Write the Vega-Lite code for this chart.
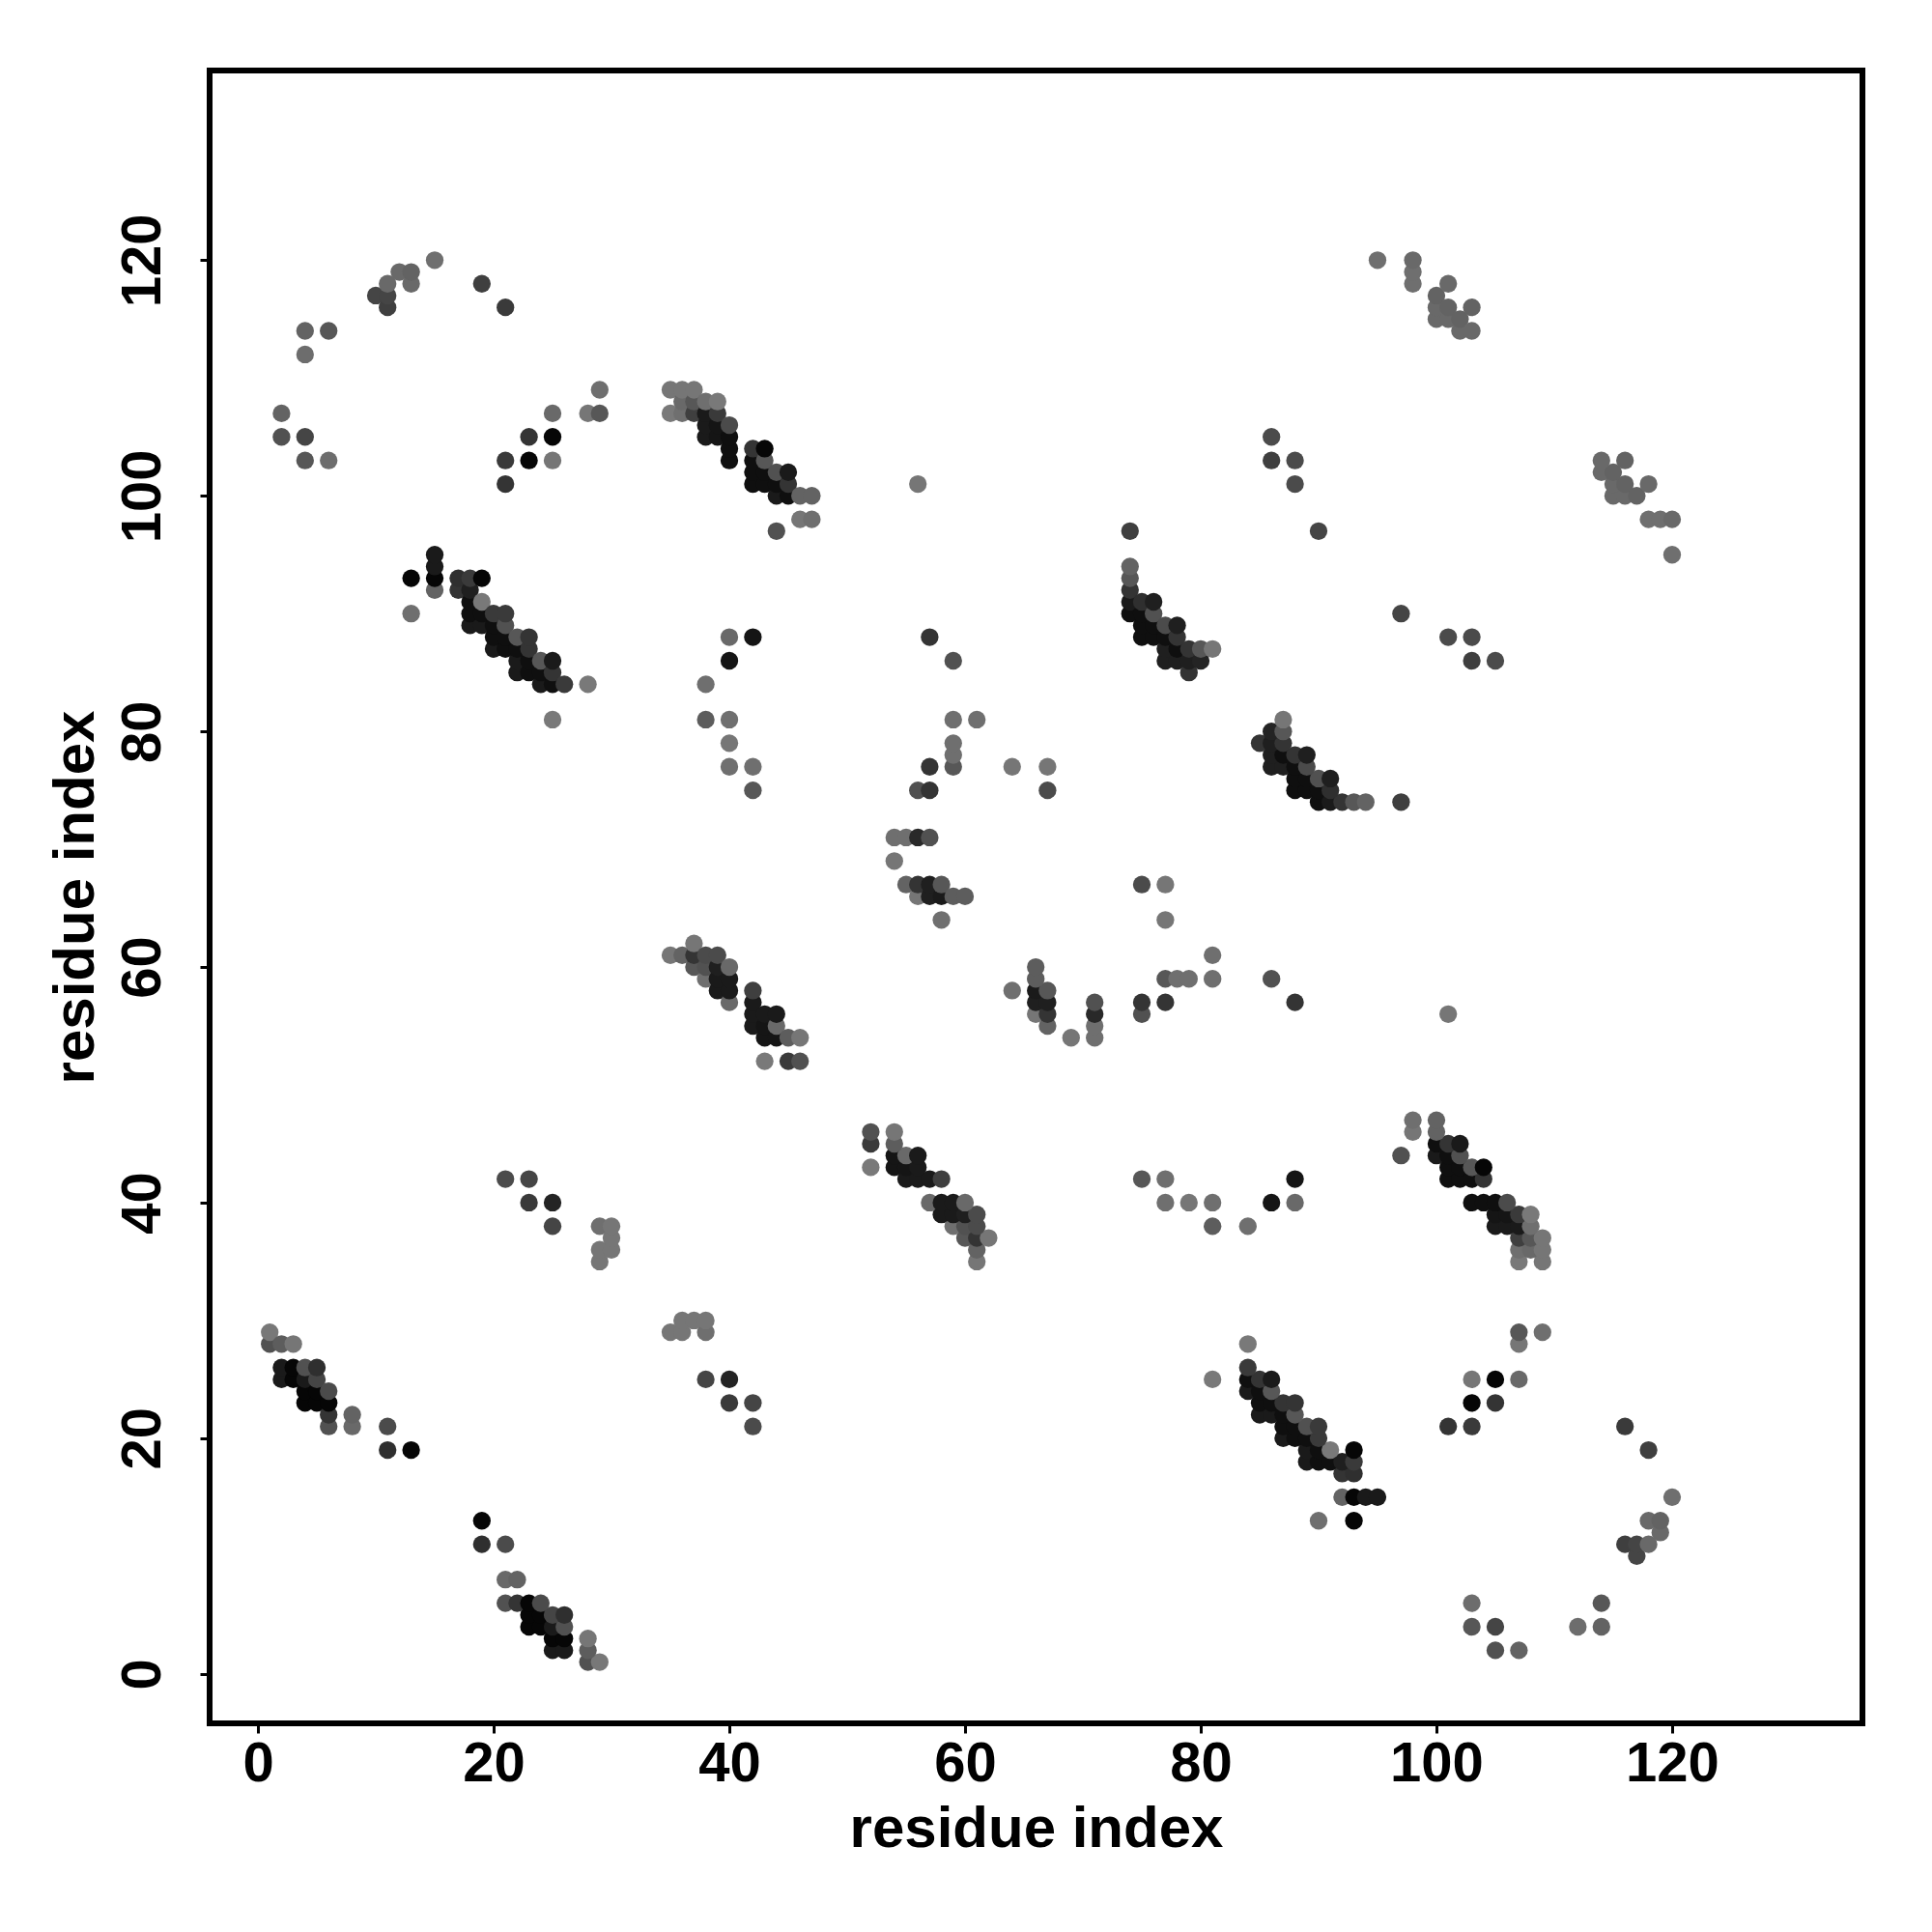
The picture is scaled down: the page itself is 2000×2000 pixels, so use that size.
{"$schema":"https://vega.github.io/schema/vega-lite/v6.json","width":1711,"height":1711,"autosize":"none","padding":{"left":217,"top":73,"right":72,"bottom":216},"background":"white","view":{"stroke":"black","strokeWidth":6,"fill":"white"},"config":{"font":"Liberation Sans"},
"data":{"values":[
{"x":1,"y":28,"g":0.35},{"x":1,"y":29,"g":0.03},{"x":2,"y":25,"g":0.85},{"x":2,"y":26,"g":0.85},{"x":2,"y":28,"g":0.25},{"x":3,"y":25,"g":1},{"x":3,"y":26,"g":1},{"x":3,"y":28,"g":0.05},{"x":4,"y":23,"g":1},{"x":4,"y":24,"g":1},{"x":4,"y":25,"g":0.85},{"x":4,"y":26,"g":0.35},{"x":5,"y":23,"g":1},{"x":5,"y":24,"g":1},{"x":5,"y":25,"g":0.45},{"x":5,"y":26,"g":0.65},{"x":6,"y":21,"g":0.35},{"x":6,"y":22,"g":0.6},{"x":6,"y":23,"g":1},{"x":6,"y":24,"g":0.4},{"x":8,"y":21,"g":0.15},{"x":8,"y":22,"g":0.2},{"x":11,"y":19,"g":0.65},{"x":11,"y":21,"g":0.4},{"x":13,"y":19,"g":1},
{"x":2,"y":105,"g":0.35},{"x":2,"y":107,"g":0.2},{"x":4,"y":103,"g":0.3},{"x":4,"y":105,"g":0.45},{"x":4,"y":112,"g":0.12},{"x":4,"y":114,"g":0.2},{"x":6,"y":103,"g":0.12},{"x":6,"y":114,"g":0.3},{"x":10,"y":117,"g":0.45},{"x":11,"y":116,"g":0.5},{"x":11,"y":117,"g":0.45},{"x":11,"y":118,"g":0.15},{"x":12,"y":119,"g":0.15},{"x":13,"y":118,"g":0.15},{"x":13,"y":119,"g":0.2},{"x":15,"y":120,"g":0.1},{"x":19,"y":118,"g":0.5},{"x":21,"y":116,"g":0.55},{"x":21,"y":101,"g":0.6},{"x":21,"y":103,"g":0.55},{"x":23,"y":103,"g":1},{"x":23,"y":105,"g":0.6},{"x":25,"y":103,"g":0.05},{"x":25,"y":105,"g":1},{"x":25,"y":107,"g":0.15},{"x":28,"y":107,"g":0.05},{"x":29,"y":107,"g":0.3},{"x":29,"y":109,"g":0.1},
{"x":13,"y":90,"g":0.1},{"x":13,"y":93,"g":1},{"x":15,"y":92,"g":0.2},{"x":15,"y":93,"g":1},{"x":15,"y":94,"g":0.85},{"x":15,"y":95,"g":0.85},{"x":17,"y":92,"g":0.6},{"x":17,"y":93,"g":0.65},{"x":18,"y":89,"g":0.85},{"x":18,"y":90,"g":0.95},{"x":18,"y":91,"g":0.95},{"x":18,"y":92,"g":0.8},{"x":18,"y":93,"g":0.55},{"x":19,"y":89,"g":0.85},{"x":19,"y":90,"g":0.95},{"x":19,"y":91,"g":0.02},{"x":19,"y":93,"g":1},{"x":20,"y":87,"g":0.85},{"x":20,"y":88,"g":0.95},{"x":20,"y":89,"g":0.95},{"x":20,"y":90,"g":0.55},{"x":21,"y":87,"g":0.95},{"x":21,"y":88,"g":0.95},{"x":21,"y":89,"g":0.35},{"x":21,"y":90,"g":0.55},{"x":22,"y":85,"g":0.85},{"x":22,"y":86,"g":0.85},{"x":22,"y":87,"g":0.95},{"x":22,"y":88,"g":0.3},{"x":23,"y":85,"g":0.95},{"x":23,"y":86,"g":0.95},{"x":23,"y":87,"g":0.6},{"x":23,"y":88,"g":0.6},{"x":24,"y":84,"g":0.85},{"x":24,"y":85,"g":0.95},{"x":24,"y":86,"g":0.3},{"x":25,"y":81,"g":0.02},{"x":25,"y":84,"g":0.95},{"x":25,"y":85,"g":0.6},{"x":25,"y":86,"g":0.85},{"x":26,"y":84,"g":0.55},{"x":28,"y":84,"g":0.02},
{"x":21,"y":42,"g":0.4},{"x":23,"y":40,"g":0.55},{"x":23,"y":42,"g":0.45},{"x":25,"y":38,"g":0.45},{"x":25,"y":40,"g":0.75},{"x":29,"y":35,"g":0.05},{"x":29,"y":36,"g":0.05},{"x":29,"y":38,"g":0.1},{"x":30,"y":36,"g":0.05},{"x":30,"y":37,"g":0.05},{"x":30,"y":38,"g":0.05},
{"x":35,"y":107,"g":0.02},{"x":35,"y":109,"g":0.05},{"x":36,"y":107,"g":0.1},{"x":36,"y":108,"g":0.15},{"x":36,"y":109,"g":0.05},{"x":37,"y":107,"g":0.5},{"x":37,"y":108,"g":0.3},{"x":37,"y":109,"g":0.05},{"x":38,"y":105,"g":0.85},{"x":38,"y":106,"g":0.85},{"x":38,"y":107,"g":0.85},{"x":38,"y":108,"g":0.1},{"x":39,"y":105,"g":0.9},{"x":39,"y":106,"g":0.9},{"x":39,"y":107,"g":0.55},{"x":39,"y":108,"g":0.02},{"x":40,"y":103,"g":0.95},{"x":40,"y":104,"g":0.95},{"x":40,"y":105,"g":0.95},{"x":40,"y":106,"g":0.4},{"x":42,"y":101,"g":0.95},{"x":42,"y":102,"g":0.95},{"x":42,"y":103,"g":0.95},{"x":42,"y":104,"g":0.6},{"x":43,"y":101,"g":0.95},{"x":43,"y":102,"g":0.95},{"x":43,"y":103,"g":0.3},{"x":43,"y":104,"g":1},{"x":44,"y":97,"g":0.35},{"x":44,"y":100,"g":0.85},{"x":44,"y":101,"g":0.95},{"x":44,"y":102,"g":0.35},{"x":45,"y":100,"g":0.95},{"x":45,"y":101,"g":0.6},{"x":45,"y":102,"g":0.85},{"x":46,"y":98,"g":0.05},{"x":46,"y":100,"g":0.2},{"x":47,"y":98,"g":0.1},{"x":47,"y":100,"g":0.2},{"x":56,"y":101,"g":0.05},
{"x":38,"y":81,"g":0.25},{"x":38,"y":84,"g":0.1},{"x":40,"y":77,"g":0.1},{"x":40,"y":79,"g":0.05},{"x":40,"y":81,"g":0.1},{"x":40,"y":86,"g":0.9},{"x":40,"y":88,"g":0.15},{"x":42,"y":75,"g":0.3},{"x":42,"y":77,"g":0.1},{"x":42,"y":88,"g":0.9},
{"x":56,"y":75,"g":0.35},{"x":57,"y":75,"g":0.6},{"x":57,"y":77,"g":0.6},{"x":57,"y":88,"g":0.6},{"x":59,"y":77,"g":0.3},{"x":59,"y":78,"g":0.1},{"x":59,"y":79,"g":0.1},{"x":59,"y":81,"g":0.1},{"x":59,"y":86,"g":0.35},{"x":61,"y":81,"g":0.1},{"x":64,"y":77,"g":0.05},{"x":67,"y":75,"g":0.4},{"x":67,"y":77,"g":0.05},
{"x":35,"y":61,"g":0.05},{"x":36,"y":61,"g":0.2},{"x":37,"y":60,"g":0.3},{"x":37,"y":61,"g":0.6},{"x":37,"y":62,"g":0.05},{"x":38,"y":59,"g":0.1},{"x":38,"y":60,"g":0.35},{"x":38,"y":61,"g":0.4},{"x":39,"y":58,"g":0.85},{"x":39,"y":59,"g":0.85},{"x":39,"y":60,"g":0.8},{"x":39,"y":61,"g":0.4},{"x":40,"y":57,"g":0.15},{"x":40,"y":58,"g":0.85},{"x":40,"y":59,"g":0.85},{"x":40,"y":60,"g":0.15},{"x":42,"y":55,"g":0.85},{"x":42,"y":56,"g":0.85},{"x":42,"y":57,"g":0.85},{"x":42,"y":58,"g":0.5},{"x":43,"y":52,"g":0.02},{"x":43,"y":54,"g":0.9},{"x":43,"y":55,"g":0.9},{"x":43,"y":56,"g":0.85},{"x":44,"y":54,"g":0.9},{"x":44,"y":55,"g":0.15},{"x":44,"y":56,"g":0.85},{"x":45,"y":52,"g":0.55},{"x":45,"y":54,"g":0.25},{"x":46,"y":52,"g":0.35},{"x":46,"y":54,"g":0.05},
{"x":54,"y":69,"g":0.05},{"x":54,"y":71,"g":0.1},{"x":55,"y":67,"g":0.2},{"x":55,"y":71,"g":0.1},{"x":56,"y":66,"g":0.05},{"x":56,"y":67,"g":0.6},{"x":56,"y":71,"g":0.7},{"x":57,"y":66,"g":0.8},{"x":57,"y":67,"g":0.8},{"x":57,"y":71,"g":0.35},{"x":58,"y":64,"g":0.1},{"x":58,"y":66,"g":0.85},{"x":58,"y":67,"g":0.3},{"x":59,"y":66,"g":0.25},{"x":60,"y":66,"g":0.25},
{"x":74,"y":90,"g":0.95},{"x":74,"y":91,"g":0.85},{"x":74,"y":92,"g":0.6},{"x":74,"y":93,"g":0.3},{"x":74,"y":94,"g":0.2},{"x":74,"y":97,"g":0.5},{"x":75,"y":88,"g":0.95},{"x":75,"y":89,"g":0.95},{"x":75,"y":90,"g":0.95},{"x":75,"y":91,"g":0.65},{"x":76,"y":88,"g":0.95},{"x":76,"y":89,"g":0.95},{"x":76,"y":90,"g":0.35},{"x":76,"y":91,"g":0.8},{"x":77,"y":86,"g":0.8},{"x":77,"y":87,"g":0.8},{"x":77,"y":88,"g":0.95},{"x":77,"y":89,"g":0.4},{"x":78,"y":86,"g":0.8},{"x":78,"y":87,"g":0.95},{"x":78,"y":88,"g":0.6},{"x":78,"y":89,"g":0.8},{"x":79,"y":85,"g":0.6},{"x":79,"y":86,"g":0.8},{"x":79,"y":87,"g":0.6},{"x":80,"y":86,"g":0.75},{"x":80,"y":87,"g":0.3},{"x":81,"y":87,"g":0.05},
{"x":86,"y":103,"g":0.5},{"x":86,"y":105,"g":0.4},{"x":88,"y":101,"g":0.4},{"x":88,"y":103,"g":0.4},{"x":90,"y":97,"g":0.45},
{"x":95,"y":120,"g":0.1},{"x":98,"y":118,"g":0.1},{"x":98,"y":119,"g":0.1},{"x":98,"y":120,"g":0.15},{"x":100,"y":115,"g":0.15},{"x":100,"y":116,"g":0.15},{"x":100,"y":117,"g":0.2},{"x":101,"y":115,"g":0.15},{"x":101,"y":116,"g":0.2},{"x":101,"y":118,"g":0.15},{"x":102,"y":114,"g":0.15},{"x":102,"y":115,"g":0.2},{"x":103,"y":114,"g":0.15},{"x":103,"y":116,"g":0.2},

{"y":1,"x":28,"g":0.35},{"y":1,"x":29,"g":0.03},{"y":2,"x":25,"g":0.85},{"y":2,"x":26,"g":0.85},{"y":2,"x":28,"g":0.25},{"y":3,"x":25,"g":1},{"y":3,"x":26,"g":1},{"y":3,"x":28,"g":0.05},{"y":4,"x":23,"g":1},{"y":4,"x":24,"g":1},{"y":4,"x":25,"g":0.85},{"y":4,"x":26,"g":0.35},{"y":5,"x":23,"g":1},{"y":5,"x":24,"g":1},{"y":5,"x":25,"g":0.45},{"y":5,"x":26,"g":0.65},{"y":6,"x":21,"g":0.35},{"y":6,"x":22,"g":0.6},{"y":6,"x":23,"g":1},{"y":6,"x":24,"g":0.4},{"y":8,"x":21,"g":0.15},{"y":8,"x":22,"g":0.2},{"y":11,"x":19,"g":0.65},{"y":11,"x":21,"g":0.4},{"y":13,"x":19,"g":1},
{"y":2,"x":105,"g":0.35},{"y":2,"x":107,"g":0.2},{"y":4,"x":103,"g":0.3},{"y":4,"x":105,"g":0.45},{"y":4,"x":112,"g":0.12},{"y":4,"x":114,"g":0.2},{"y":6,"x":103,"g":0.12},{"y":6,"x":114,"g":0.3},{"y":10,"x":117,"g":0.45},{"y":11,"x":116,"g":0.5},{"y":11,"x":117,"g":0.45},{"y":11,"x":118,"g":0.15},{"y":12,"x":119,"g":0.15},{"y":13,"x":118,"g":0.15},{"y":13,"x":119,"g":0.2},{"y":15,"x":120,"g":0.1},{"y":19,"x":118,"g":0.5},{"y":21,"x":116,"g":0.55},{"y":21,"x":101,"g":0.6},{"y":21,"x":103,"g":0.55},{"y":23,"x":103,"g":1},{"y":23,"x":105,"g":0.6},{"y":25,"x":103,"g":0.05},{"y":25,"x":105,"g":1},{"y":25,"x":107,"g":0.15},{"y":28,"x":107,"g":0.05},{"y":29,"x":107,"g":0.3},{"y":29,"x":109,"g":0.1},
{"y":13,"x":90,"g":0.1},{"y":13,"x":93,"g":1},{"y":15,"x":92,"g":0.2},{"y":15,"x":93,"g":1},{"y":15,"x":94,"g":0.85},{"y":15,"x":95,"g":0.85},{"y":17,"x":92,"g":0.6},{"y":17,"x":93,"g":0.65},{"y":18,"x":89,"g":0.85},{"y":18,"x":90,"g":0.95},{"y":18,"x":91,"g":0.95},{"y":18,"x":92,"g":0.8},{"y":18,"x":93,"g":0.55},{"y":19,"x":89,"g":0.85},{"y":19,"x":90,"g":0.95},{"y":19,"x":91,"g":0.02},{"y":19,"x":93,"g":1},{"y":20,"x":87,"g":0.85},{"y":20,"x":88,"g":0.95},{"y":20,"x":89,"g":0.95},{"y":20,"x":90,"g":0.55},{"y":21,"x":87,"g":0.95},{"y":21,"x":88,"g":0.95},{"y":21,"x":89,"g":0.35},{"y":21,"x":90,"g":0.55},{"y":22,"x":85,"g":0.85},{"y":22,"x":86,"g":0.85},{"y":22,"x":87,"g":0.95},{"y":22,"x":88,"g":0.3},{"y":23,"x":85,"g":0.95},{"y":23,"x":86,"g":0.95},{"y":23,"x":87,"g":0.6},{"y":23,"x":88,"g":0.6},{"y":24,"x":84,"g":0.85},{"y":24,"x":85,"g":0.95},{"y":24,"x":86,"g":0.3},{"y":25,"x":81,"g":0.02},{"y":25,"x":84,"g":0.95},{"y":25,"x":85,"g":0.6},{"y":25,"x":86,"g":0.85},{"y":26,"x":84,"g":0.55},{"y":28,"x":84,"g":0.02},
{"y":21,"x":42,"g":0.4},{"y":23,"x":40,"g":0.55},{"y":23,"x":42,"g":0.45},{"y":25,"x":38,"g":0.45},{"y":25,"x":40,"g":0.75},{"y":29,"x":35,"g":0.05},{"y":29,"x":36,"g":0.05},{"y":29,"x":38,"g":0.1},{"y":30,"x":36,"g":0.05},{"y":30,"x":37,"g":0.05},{"y":30,"x":38,"g":0.05},
{"y":35,"x":107,"g":0.02},{"y":35,"x":109,"g":0.05},{"y":36,"x":107,"g":0.1},{"y":36,"x":108,"g":0.15},{"y":36,"x":109,"g":0.05},{"y":37,"x":107,"g":0.5},{"y":37,"x":108,"g":0.3},{"y":37,"x":109,"g":0.05},{"y":38,"x":105,"g":0.85},{"y":38,"x":106,"g":0.85},{"y":38,"x":107,"g":0.85},{"y":38,"x":108,"g":0.1},{"y":39,"x":105,"g":0.9},{"y":39,"x":106,"g":0.9},{"y":39,"x":107,"g":0.55},{"y":39,"x":108,"g":0.02},{"y":40,"x":103,"g":0.95},{"y":40,"x":104,"g":0.95},{"y":40,"x":105,"g":0.95},{"y":40,"x":106,"g":0.4},{"y":42,"x":101,"g":0.95},{"y":42,"x":102,"g":0.95},{"y":42,"x":103,"g":0.95},{"y":42,"x":104,"g":0.6},{"y":43,"x":101,"g":0.95},{"y":43,"x":102,"g":0.95},{"y":43,"x":103,"g":0.3},{"y":43,"x":104,"g":1},{"y":44,"x":97,"g":0.35},{"y":44,"x":100,"g":0.85},{"y":44,"x":101,"g":0.95},{"y":44,"x":102,"g":0.35},{"y":45,"x":100,"g":0.95},{"y":45,"x":101,"g":0.6},{"y":45,"x":102,"g":0.85},{"y":46,"x":98,"g":0.05},{"y":46,"x":100,"g":0.2},{"y":47,"x":98,"g":0.1},{"y":47,"x":100,"g":0.2},{"y":56,"x":101,"g":0.05},
{"y":38,"x":81,"g":0.25},{"y":38,"x":84,"g":0.1},{"y":40,"x":77,"g":0.1},{"y":40,"x":79,"g":0.05},{"y":40,"x":81,"g":0.1},{"y":40,"x":86,"g":0.9},{"y":40,"x":88,"g":0.15},{"y":42,"x":75,"g":0.3},{"y":42,"x":77,"g":0.1},{"y":42,"x":88,"g":0.9},
{"y":56,"x":75,"g":0.35},{"y":57,"x":75,"g":0.6},{"y":57,"x":77,"g":0.6},{"y":57,"x":88,"g":0.6},{"y":59,"x":77,"g":0.3},{"y":59,"x":78,"g":0.1},{"y":59,"x":79,"g":0.1},{"y":59,"x":81,"g":0.1},{"y":59,"x":86,"g":0.35},{"y":61,"x":81,"g":0.1},{"y":64,"x":77,"g":0.05},{"y":67,"x":75,"g":0.4},{"y":67,"x":77,"g":0.05},
{"y":35,"x":61,"g":0.05},{"y":36,"x":61,"g":0.2},{"y":37,"x":60,"g":0.3},{"y":37,"x":61,"g":0.6},{"y":37,"x":62,"g":0.05},{"y":38,"x":59,"g":0.1},{"y":38,"x":60,"g":0.35},{"y":38,"x":61,"g":0.4},{"y":39,"x":58,"g":0.85},{"y":39,"x":59,"g":0.85},{"y":39,"x":60,"g":0.8},{"y":39,"x":61,"g":0.4},{"y":40,"x":57,"g":0.15},{"y":40,"x":58,"g":0.85},{"y":40,"x":59,"g":0.85},{"y":40,"x":60,"g":0.15},{"y":42,"x":55,"g":0.85},{"y":42,"x":56,"g":0.85},{"y":42,"x":57,"g":0.85},{"y":42,"x":58,"g":0.5},{"y":43,"x":52,"g":0.02},{"y":43,"x":54,"g":0.9},{"y":43,"x":55,"g":0.9},{"y":43,"x":56,"g":0.85},{"y":44,"x":54,"g":0.9},{"y":44,"x":55,"g":0.15},{"y":44,"x":56,"g":0.85},{"y":45,"x":52,"g":0.55},{"y":45,"x":54,"g":0.25},{"y":46,"x":52,"g":0.35},{"y":46,"x":54,"g":0.05},
{"y":54,"x":69,"g":0.05},{"y":54,"x":71,"g":0.1},{"y":55,"x":67,"g":0.2},{"y":55,"x":71,"g":0.1},{"y":56,"x":66,"g":0.05},{"y":56,"x":67,"g":0.6},{"y":56,"x":71,"g":0.7},{"y":57,"x":66,"g":0.8},{"y":57,"x":67,"g":0.8},{"y":57,"x":71,"g":0.35},{"y":58,"x":64,"g":0.1},{"y":58,"x":66,"g":0.85},{"y":58,"x":67,"g":0.3},{"y":59,"x":66,"g":0.25},{"y":60,"x":66,"g":0.25},
{"y":74,"x":90,"g":0.95},{"y":74,"x":91,"g":0.85},{"y":74,"x":92,"g":0.6},{"y":74,"x":93,"g":0.3},{"y":74,"x":94,"g":0.2},{"y":74,"x":97,"g":0.5},{"y":75,"x":88,"g":0.95},{"y":75,"x":89,"g":0.95},{"y":75,"x":90,"g":0.95},{"y":75,"x":91,"g":0.65},{"y":76,"x":88,"g":0.95},{"y":76,"x":89,"g":0.95},{"y":76,"x":90,"g":0.35},{"y":76,"x":91,"g":0.8},{"y":77,"x":86,"g":0.8},{"y":77,"x":87,"g":0.8},{"y":77,"x":88,"g":0.95},{"y":77,"x":89,"g":0.4},{"y":78,"x":86,"g":0.8},{"y":78,"x":87,"g":0.95},{"y":78,"x":88,"g":0.6},{"y":78,"x":89,"g":0.8},{"y":79,"x":85,"g":0.6},{"y":79,"x":86,"g":0.8},{"y":79,"x":87,"g":0.6},{"y":80,"x":86,"g":0.75},{"y":80,"x":87,"g":0.3},{"y":81,"x":87,"g":0.05},
{"y":86,"x":103,"g":0.5},{"y":86,"x":105,"g":0.4},{"y":88,"x":101,"g":0.4},{"y":88,"x":103,"g":0.4},{"y":90,"x":97,"g":0.45},
{"y":95,"x":120,"g":0.1},{"y":98,"x":118,"g":0.1},{"y":98,"x":119,"g":0.1},{"y":98,"x":120,"g":0.15},{"y":100,"x":115,"g":0.15},{"y":100,"x":116,"g":0.15},{"y":100,"x":117,"g":0.2},{"y":101,"x":115,"g":0.15},{"y":101,"x":116,"g":0.2},{"y":101,"x":118,"g":0.15},{"y":102,"x":114,"g":0.15},{"y":102,"x":115,"g":0.2},{"y":103,"x":114,"g":0.15},{"y":103,"x":116,"g":0.2}
]},
"mark":{"type":"point","filled":true,"shape":"circle","size":335,"opacity":1,"strokeWidth":0},
"encoding":{
"x":{"field":"x","type":"quantitative","scale":{"domain":[-4.1,136.15],"nice":false,"zero":false},"axis":{"values":[0,20,40,60,80,100,120],"grid":false,"domain":false,"ticks":true,"tickColor":"black","tickSize":10,"tickWidth":3,"labelFont":"Liberation Sans","labelFontWeight":"bold","labelFontSize":58,"labelColor":"black","labelPadding":3,"title":"residue index","titleFont":"Liberation Sans","titleFontWeight":"bold","titleFontSize":60,"titleColor":"black","titlePadding":9}},
"y":{"field":"y","type":"quantitative","scale":{"domain":[-4.2,136.1],"nice":false,"zero":false},"axis":{"values":[0,20,40,60,80,100,120],"grid":false,"domain":false,"ticks":true,"tickColor":"black","tickSize":10,"tickWidth":3,"labelFont":"Liberation Sans","labelFontWeight":"bold","labelFontSize":58,"labelColor":"black","labelAngle":-90,"labelAlign":"center","labelBaseline":"bottom","labelPadding":30,"title":"residue index","titleFont":"Liberation Sans","titleFontWeight":"bold","titleFontSize":60,"titleColor":"black","titlePadding":10}},
"color":{"field":"g","type":"quantitative","scale":{"domain":[0,1],"range":["#7c7c7c","#060606"]},"legend":null},
"order":[{"field":"x","type":"quantitative"},{"field":"y","type":"quantitative"}]
}}
